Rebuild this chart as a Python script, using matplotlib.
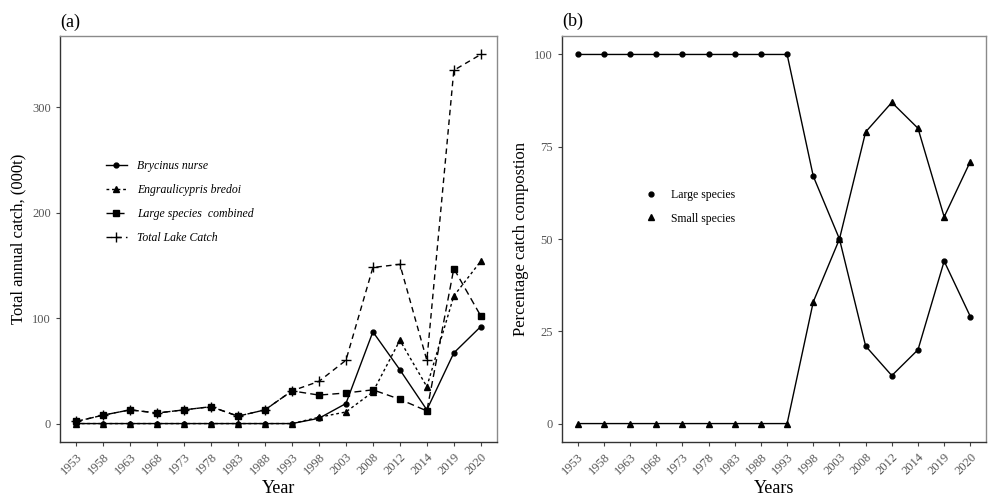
import numpy as np
import matplotlib.pyplot as plt
import matplotlib as mpl

mpl.rcParams['font.family'] = ['Liberation Serif', 'DejaVu Serif']

years = ['1953', '1958', '1963', '1968', '1973', '1978', '1983', '1988',
         '1993', '1998', '2003', '2008', '2012', '2014', '2019', '2020']

# 年捕获量 (000t)
brycinus = [0, 0, 0, 0, 0, 0, 0, 0, 0, 5, 19, 87, 51, 13, 67, 92]
engraulicypris = [0, 0, 0, 0, 0, 0, 0, 0, 0, 6, 11, 30, 79, 35, 121, 154]
large_comb = [2, 8, 13, 10, 13, 16, 7, 13, 31, 27, 29, 32, 23, 12, 147, 102]
total_catch = [2, 8, 13, 10, 13, 16, 7, 13, 31, 40, 60, 148, 151, 60, 335, 350]

# 渔获组成百分比
large_pct = [100, 100, 100, 100, 100, 100, 100, 100, 100, 67, 50, 21, 13, 20, 44, 29]
small_pct = [0, 0, 0, 0, 0, 0, 0, 0, 0, 33, 50, 79, 87, 80, 56, 71]

x = np.arange(len(years))


def style_axes(ax):
    for s in ['top', 'right']:
        ax.spines[s].set_color('#8a8a8a')
    for s in ['left', 'bottom']:
        ax.spines[s].set_color('#333333')
    for s in ax.spines.values():
        s.set_linewidth(1.0)
    ax.set_xticks(x)
    ax.set_xticklabels(years, rotation=45, ha='right', rotation_mode='anchor',
                       fontsize=9, color='#555555')
    ax.tick_params(axis='both', length=3, width=0.8, color='#444444',
                   labelsize=9, labelcolor='#555555')
    ax.set_xlim(-0.6, len(years) - 0.4)


fig = plt.figure(figsize=(9.9, 4.98), dpi=100)
ax1 = fig.add_axes([0.0606, 0.1124, 0.4414, 0.8153])
ax2 = fig.add_axes([0.5677, 0.1124, 0.4283, 0.8153])

lw = 1.0
ax1.plot(x, brycinus, '-', color='k', lw=lw, marker='o', ms=3.5, label='Brycinus nurse')
ax1.plot(x, engraulicypris, color='k', lw=lw, ls=(0, (2, 2)), marker='^', ms=4,
         label='Engraulicypris bredoi')
ax1.plot(x, large_comb, color='k', lw=lw, ls=(0, (5, 3)), marker='s', ms=4,
         label='Large species  combined')
ax1.plot(x, total_catch, color='k', lw=lw, ls=(0, (4, 3)), marker='+', ms=7,
         mew=1.0, label='Total Lake Catch')

style_axes(ax1)
ax1.set_ylim(-17.5, 367.5)
ax1.set_yticks([0, 100, 200, 300])
ax1.set_xlabel('Year', fontsize=13, labelpad=2)
ax1.set_ylabel('Total annual catch, (000t)', fontsize=12, labelpad=4)
ax1.text(-0.6, 372, '(a)', fontsize=13, va='bottom', ha='left')
ax1.legend(loc='upper left', bbox_to_anchor=(0.08, 0.72), frameon=False,
           prop={'family': 'Liberation Serif', 'style': 'italic', 'size': 8.5},
           handlelength=1.8, labelspacing=1.0, handletextpad=0.9)

ax2.plot(x, large_pct, '-', color='k', lw=lw, marker='o', ms=3.5, label='Large species')
ax2.plot(x, small_pct, '-', color='k', lw=lw, marker='^', ms=4, label='Small species')
style_axes(ax2)
ax2.set_ylim(-5, 105)
ax2.set_yticks([0, 25, 50, 75, 100])
ax2.set_xlabel('Years', fontsize=13, labelpad=2)
ax2.set_ylabel('Percentage catch compostion', fontsize=12, labelpad=4)
ax2.text(-0.6, 106.5, '(b)', fontsize=13, va='bottom', ha='left')
ax2.legend(loc='upper left', bbox_to_anchor=(0.17, 0.65), frameon=False,
           prop={'family': 'Liberation Serif', 'size': 8.5},
           handlelength=1.0, labelspacing=1.0, handletextpad=1.2)
for h in ax2.get_legend().get_lines():
    h.set_linestyle('none')

fig.savefig('out.png', dpi=100)
